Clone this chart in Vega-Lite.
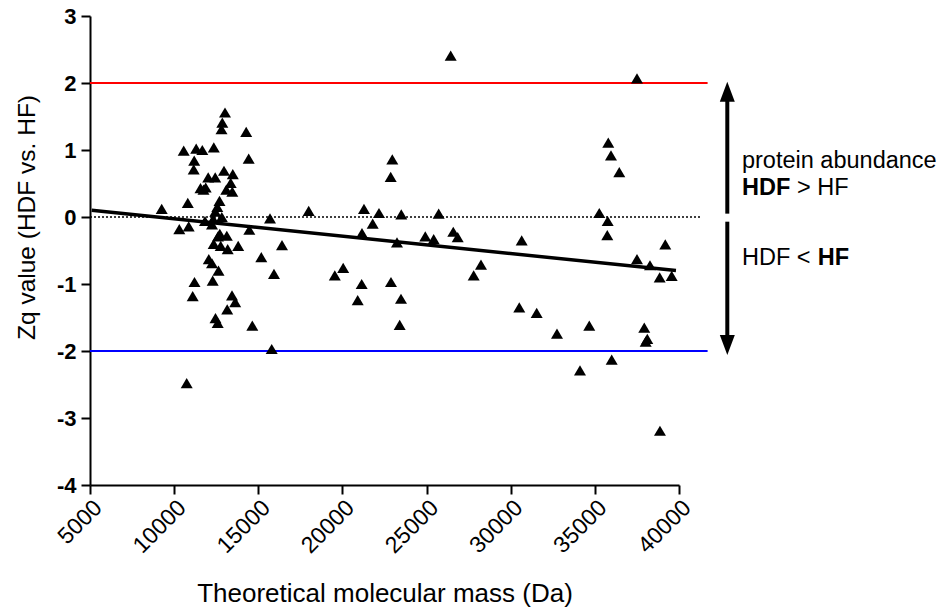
{
  "$schema": "https://vega.github.io/schema/vega-lite/v6.json",
  "width": 589,
  "height": 469,
  "autosize": {"type": "none"},
  "padding": {"left": 90, "top": 16, "right": 262, "bottom": 123},
  "background": "white",
  "config": {
    "view": {"stroke": null},
    "font": "Liberation Sans",
    "axis": {
      "domainColor": "black", "domainWidth": 2, "tickColor": "black", "tickWidth": 2, "tickSize": 9,
      "labelColor": "black", "titleColor": "black", "grid": false, "labelFont": "Liberation Sans", "titleFont": "Liberation Sans",
      "titleFontWeight": "normal"
    }
  },
  "layer": [
    {
      "data": {"values": [{"x": 5000, "x2": 41700, "y": 2}]},
      "mark": {"type": "rule", "color": "#ff0000", "strokeWidth": 2},
      "encoding": {
        "x": {"field": "x", "type": "quantitative", "scale": {"domain": [5000, 40000]},
          "axis": {"values": [5000, 10000, 15000, 20000, 25000, 30000, 35000, 40000], "labelExpr": "datum.value + ''", "labelAngle": -45, "labelFontSize": 23, "labelPadding": 2,
            "title": "Theoretical molecular mass (Da)", "titleFontSize": 26, "titlePadding": 23}},
        "x2": {"field": "x2"},
        "y": {"field": "y", "type": "quantitative", "scale": {"domain": [-4, 3]},
          "axis": {"values": [-4, -3, -2, -1, 0, 1, 2, 3], "labelExpr": "datum.value + ''", "labelFontSize": 22, "labelFontWeight": "bold", "labelPadding": 5,
            "title": "Zq  value (HDF vs. HF)", "titleFontSize": 24.5, "titlePadding": 17, "titleY": 201}}
      }
    },
    {
      "data": {"values": [{"x": 5000, "x2": 41700, "y": -2}]},
      "mark": {"type": "rule", "color": "#0000ff", "strokeWidth": 2},
      "encoding": {
        "x": {"field": "x", "type": "quantitative"},
        "x2": {"field": "x2"},
        "y": {"field": "y", "type": "quantitative"}
      }
    },
    {
      "data": {"values": [{"x": 5000, "x2": 41250, "y": 0}]},
      "mark": {"type": "rule", "color": "black", "strokeWidth": 1.5, "strokeDash": [2, 2]},
      "encoding": {
        "x": {"field": "x", "type": "quantitative"},
        "x2": {"field": "x2"},
        "y": {"field": "y", "type": "quantitative"}
      }
    },
    {
      "data": {"values": [{"x": 5100, "y": 0.10}, {"x": 39820, "y": -0.80}]},
      "mark": {"type": "line", "color": "black", "strokeWidth": 3.5},
      "encoding": {
        "x": {"field": "x", "type": "quantitative"},
        "y": {"field": "y", "type": "quantitative"}
      }
    },
    {
      "data": {"values": [
        {"x": 13022, "y": 1.56}, {"x": 12861, "y": 1.41}, {"x": 12814, "y": 1.31}, {"x": 14282, "y": 1.27},
        {"x": 10568, "y": 0.99}, {"x": 11310, "y": 1.02}, {"x": 11673, "y": 1.00}, {"x": 12356, "y": 1.04},
        {"x": 14430, "y": 0.87}, {"x": 11192, "y": 0.84}, {"x": 11162, "y": 0.71}, {"x": 12962, "y": 0.69},
        {"x": 13485, "y": 0.64}, {"x": 12024, "y": 0.59}, {"x": 12440, "y": 0.59}, {"x": 13360, "y": 0.51},
        {"x": 11566, "y": 0.43}, {"x": 11875, "y": 0.44}, {"x": 11744, "y": 0.41}, {"x": 13099, "y": 0.41},
        {"x": 13455, "y": 0.38}, {"x": 9260, "y": 0.12}, {"x": 10811, "y": 0.21}, {"x": 12695, "y": 0.24},
        {"x": 12564, "y": 0.15}, {"x": 12445, "y": 0.08}, {"x": 12832, "y": 0.00}, {"x": 12321, "y": -0.03},
        {"x": 11833, "y": -0.06}, {"x": 12249, "y": -0.11}, {"x": 10306, "y": -0.18}, {"x": 10865, "y": -0.14},
        {"x": 14466, "y": -0.19}, {"x": 12713, "y": -0.25}, {"x": 13129, "y": -0.28}, {"x": 12606, "y": -0.29},
        {"x": 12350, "y": -0.40}, {"x": 12766, "y": -0.43}, {"x": 13182, "y": -0.48}, {"x": 13806, "y": -0.43},
        {"x": 15179, "y": -0.60}, {"x": 12059, "y": -0.63}, {"x": 12249, "y": -0.69}, {"x": 12636, "y": -0.80},
        {"x": 15933, "y": -0.85}, {"x": 11209, "y": -0.97}, {"x": 12291, "y": -0.95}, {"x": 11102, "y": -1.18},
        {"x": 13438, "y": -1.17}, {"x": 13628, "y": -1.27}, {"x": 13152, "y": -1.38}, {"x": 12457, "y": -1.51},
        {"x": 12588, "y": -1.58}, {"x": 14644, "y": -1.62}, {"x": 15797, "y": -1.97}, {"x": 10746, "y": -2.48},
        {"x": 15696, "y": -0.02}, {"x": 16409, "y": -0.42}, {"x": 22963, "y": 0.86}, {"x": 22868, "y": 0.60},
        {"x": 17995, "y": 0.09}, {"x": 21281, "y": 0.12}, {"x": 22172, "y": 0.06}, {"x": 23497, "y": 0.04},
        {"x": 25720, "y": 0.05}, {"x": 21798, "y": -0.10}, {"x": 21162, "y": -0.24}, {"x": 23242, "y": -0.38},
        {"x": 24923, "y": -0.29}, {"x": 25423, "y": -0.33}, {"x": 26587, "y": -0.22}, {"x": 26849, "y": -0.30},
        {"x": 19546, "y": -0.87}, {"x": 20045, "y": -0.76}, {"x": 21144, "y": -1.00}, {"x": 22885, "y": -0.97},
        {"x": 20907, "y": -1.24}, {"x": 23480, "y": -1.22}, {"x": 23402, "y": -1.61}, {"x": 26433, "y": 2.41},
        {"x": 37503, "y": 2.07}, {"x": 35797, "y": 1.11}, {"x": 35958, "y": 0.92}, {"x": 36451, "y": 0.67},
        {"x": 35263, "y": 0.06}, {"x": 35762, "y": -0.06}, {"x": 35738, "y": -0.27}, {"x": 30652, "y": -0.35},
        {"x": 39185, "y": -0.41}, {"x": 28233, "y": -0.71}, {"x": 27799, "y": -0.87}, {"x": 37503, "y": -0.63},
        {"x": 38275, "y": -0.72}, {"x": 38852, "y": -0.90}, {"x": 39565, "y": -0.88}, {"x": 30509, "y": -1.35},
        {"x": 31543, "y": -1.43}, {"x": 32749, "y": -1.74}, {"x": 34668, "y": -1.62}, {"x": 37936, "y": -1.65},
        {"x": 38115, "y": -1.82}, {"x": 38020, "y": -1.86}, {"x": 36000, "y": -2.13}, {"x": 34116, "y": -2.29},
        {"x": 38869, "y": -3.19}
      ]},
      "mark": {"type": "point", "shape": "M0,-0.85L1,0.85L-1,0.85Z", "filled": true, "size": 144, "color": "black", "opacity": 1},
      "encoding": {
        "x": {"field": "x", "type": "quantitative"},
        "y": {"field": "y", "type": "quantitative"}
      }
    },
    {
      "data": {"values": [{"x": 42870, "y": 1.76, "y2": 0.05}, {"x": 42870, "y": -0.07, "y2": -1.8}]},
      "mark": {"type": "rule", "color": "black", "strokeWidth": 4},
      "encoding": {
        "x": {"field": "x", "type": "quantitative"},
        "y": {"field": "y", "type": "quantitative"},
        "y2": {"field": "y2"}
      }
    },
    {
      "data": {"values": [{"x": 42870, "y": 1.87}]},
      "mark": {"type": "point", "shape": "M0,-1L0.75,1L-0.75,1Z", "filled": true, "size": 400, "color": "black", "opacity": 1},
      "encoding": {
        "x": {"field": "x", "type": "quantitative"},
        "y": {"field": "y", "type": "quantitative"}
      }
    },
    {
      "data": {"values": [{"x": 42870, "y": -1.91}]},
      "mark": {"type": "point", "shape": "M0,1L0.75,-1L-0.75,-1Z", "filled": true, "size": 400, "color": "black", "opacity": 1},
      "encoding": {
        "x": {"field": "x", "type": "quantitative"},
        "y": {"field": "y", "type": "quantitative"}
      }
    },
    {
      "data": {"values": [
        {"x": 43742, "y": 0.727, "t": "protein abundance"},
        {"x": 47010, "y": 0.328, "t": "> HF"},
        {"x": 43742, "y": -0.716, "t": "HDF <"}
      ]},
      "mark": {"type": "text", "align": "left", "baseline": "alphabetic", "fontSize": 23.5, "font": "Liberation Sans", "color": "black"},
      "encoding": {
        "x": {"field": "x", "type": "quantitative"},
        "y": {"field": "y", "type": "quantitative"},
        "text": {"field": "t"}
      }
    },
    {
      "data": {"values": [
        {"x": 43742, "y": 0.328, "t": "HDF"},
        {"x": 48240, "y": -0.716, "t": "HF"}
      ]},
      "mark": {"type": "text", "align": "left", "baseline": "alphabetic", "fontSize": 23.5, "font": "Liberation Sans", "fontWeight": "bold", "color": "black"},
      "encoding": {
        "x": {"field": "x", "type": "quantitative"},
        "y": {"field": "y", "type": "quantitative"},
        "text": {"field": "t"}
      }
    }
  ]
}
